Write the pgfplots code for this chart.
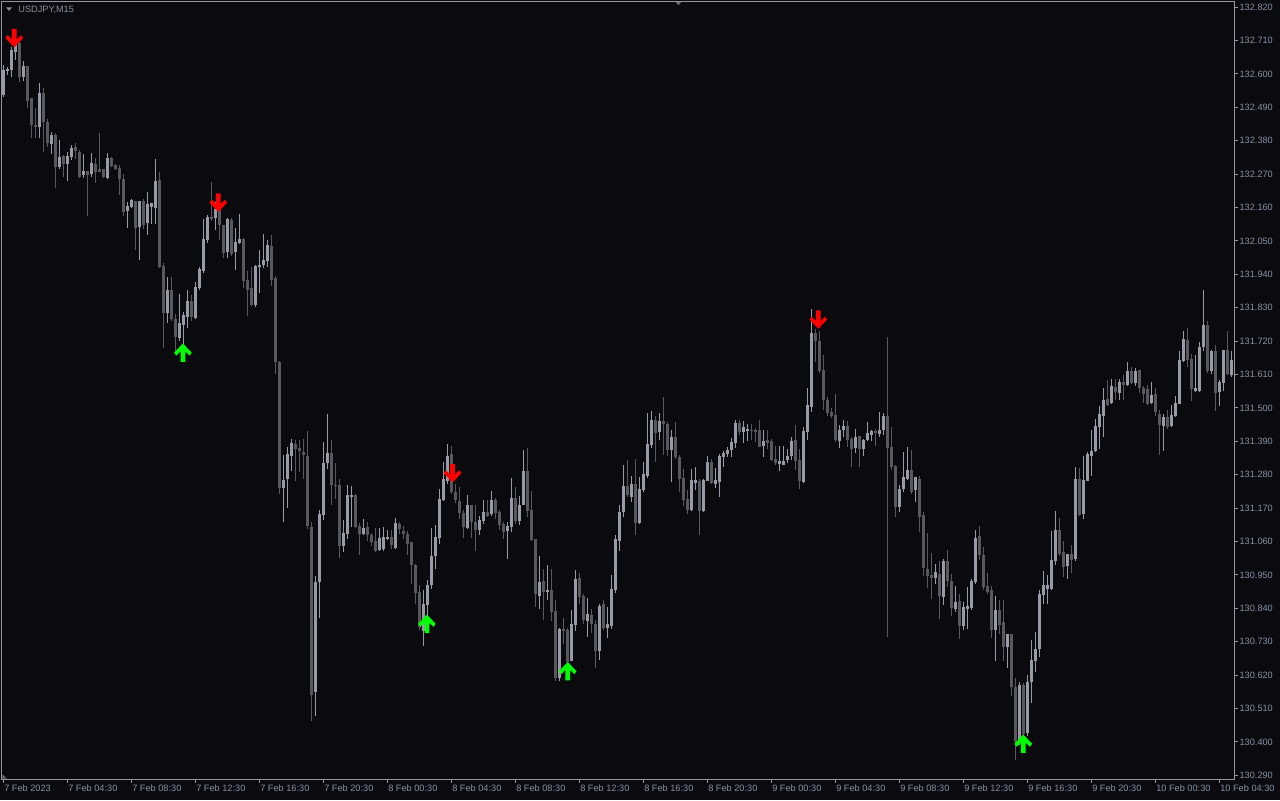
\documentclass[border=0pt]{standalone}
\usepackage{fontspec}
\setmainfont{Liberation Sans}
\usepackage{pgfplots}
\pgfplotsset{compat=1.18}
\usepackage{pgfplotstable}
\definecolor{bg}{RGB}{10,10,15}
\definecolor{bullc}{RGB}{152,154,166}
\definecolor{bearc}{RGB}{88,88,94}
\definecolor{framec}{RGB}{150,150,156}
\definecolor{labc}{RGB}{135,145,162}
\definecolor{arrred}{RGB}{255,0,0}
\definecolor{arrgreen}{RGB}{0,255,0}
\pgfdeclareplotmark{dnarrow}{%
  \pgfpathmoveto{\pgfqpoint{-1.2pt}{4.6pt}}%
  \pgfpathlineto{\pgfqpoint{1.2pt}{4.6pt}}%
  \pgfpathlineto{\pgfqpoint{1.2pt}{-0.6pt}}%
  \pgfpathlineto{\pgfqpoint{3.3pt}{1.5pt}}%
  \pgfpathlineto{\pgfqpoint{4.4pt}{0.0pt}}%
  \pgfpathlineto{\pgfqpoint{0pt}{-4.6pt}}%
  \pgfpathlineto{\pgfqpoint{-4.4pt}{0.0pt}}%
  \pgfpathlineto{\pgfqpoint{-3.3pt}{1.5pt}}%
  \pgfpathlineto{\pgfqpoint{-1.2pt}{-0.6pt}}%
  \pgfpathclose
  \pgfusepathqfill}
\pgfdeclareplotmark{uparrow}{%
  \pgfpathmoveto{\pgfqpoint{-1.2pt}{-4.6pt}}%
  \pgfpathlineto{\pgfqpoint{1.2pt}{-4.6pt}}%
  \pgfpathlineto{\pgfqpoint{1.2pt}{0.6pt}}%
  \pgfpathlineto{\pgfqpoint{3.3pt}{-1.5pt}}%
  \pgfpathlineto{\pgfqpoint{4.4pt}{0.0pt}}%
  \pgfpathlineto{\pgfqpoint{0pt}{4.6pt}}%
  \pgfpathlineto{\pgfqpoint{-4.4pt}{0.0pt}}%
  \pgfpathlineto{\pgfqpoint{-3.3pt}{-1.5pt}}%
  \pgfpathlineto{\pgfqpoint{-1.2pt}{0.6pt}}%
  \pgfpathclose
  \pgfusepathqfill}
\pgfplotstableread{
i t o h l c
0 1 132.533 132.628 132.524 132.615
1 1 132.613 132.625 132.596 132.615
2 1 132.612 132.689 132.592 132.681
3 1 132.672 132.711 132.647 132.700
4 0 132.702 132.706 132.574 132.590
5 1 132.588 132.645 132.577 132.625
6 0 132.628 132.628 132.489 132.511
7 0 132.520 132.520 132.390 132.431
8 0 132.434 132.488 132.390 132.427
9 1 132.425 132.572 132.390 132.539
10 0 132.539 132.553 132.343 132.442
11 0 132.444 132.453 132.359 132.372
12 1 132.370 132.409 132.339 132.398
13 0 132.401 132.405 132.227 132.293
14 1 132.295 132.383 132.288 132.328
15 0 132.332 132.332 132.262 132.304
16 1 132.306 132.343 132.249 132.332
17 1 132.328 132.365 132.317 132.356
18 0 132.359 132.372 132.320 132.346
19 0 132.345 132.348 132.258 132.262
20 1 132.269 132.339 132.260 132.282
21 0 132.282 132.282 132.134 132.269
22 1 132.273 132.339 132.262 132.308
23 0 132.304 132.323 132.241 132.277
24 0 132.289 132.407 132.277 132.280
25 0 132.289 132.289 132.258 132.260
26 1 132.259 132.340 132.255 132.323
27 0 132.323 132.326 132.295 132.299
28 0 132.302 132.306 132.284 132.289
29 0 132.292 132.301 132.203 132.253
30 0 132.256 132.271 132.134 132.148
31 1 132.148 132.177 132.093 132.165
32 1 132.163 132.189 132.159 132.186
33 0 132.183 132.183 132.022 132.095
34 1 132.098 132.183 131.987 132.183
35 0 132.183 132.189 132.090 132.103
36 1 132.108 132.214 132.071 132.173
37 1 132.163 132.176 132.108 132.176
38 1 132.161 132.323 132.108 132.249
39 0 132.251 132.279 131.963 131.965
40 0 131.969 131.977 131.699 131.813
41 1 131.813 131.932 131.782 131.889
42 0 131.889 131.932 131.787 131.795
43 0 131.795 131.811 131.688 131.734
44 1 131.732 131.875 131.723 131.780
45 1 131.774 131.815 131.711 131.807
46 1 131.800 131.888 131.763 131.853
47 0 131.853 131.873 131.787 131.800
48 1 131.798 131.914 131.792 131.900
49 1 131.897 131.965 131.890 131.959
50 1 131.952 132.124 131.947 132.057
51 1 132.055 132.139 132.045 132.132
52 0 132.130 132.245 132.114 132.125
53 1 132.126 132.180 132.086 132.154
54 0 132.154 132.176 132.053 132.102
55 0 132.104 132.104 131.994 132.013
56 1 132.013 132.128 131.994 132.123
57 0 132.119 132.125 132.000 132.009
58 1 132.013 132.093 131.956 132.048
59 1 132.045 132.141 132.042 132.057
60 0 132.057 132.060 131.897 131.919
61 0 131.923 131.952 131.803 131.888
62 0 131.894 131.965 131.837 131.839
63 1 131.839 131.971 131.833 131.967
64 1 131.965 132.020 131.879 131.972
65 1 131.971 132.073 131.960 131.987
66 1 131.985 132.053 131.965 132.037
67 0 132.033 132.070 131.901 131.921
68 0 131.929 131.934 131.613 131.654
69 0 131.654 131.657 131.217 131.239
70 1 131.239 131.347 131.127 131.263
71 1 131.268 131.371 131.173 131.349
72 1 131.343 131.398 131.294 131.384
73 0 131.382 131.395 131.261 131.366
74 0 131.369 131.395 131.289 131.357
75 0 131.357 131.398 131.267 131.347
76 0 131.343 131.423 131.102 131.113
77 0 131.109 131.127 130.469 130.557
78 1 130.565 130.949 130.488 130.929
79 1 130.927 131.165 130.810 131.150
80 1 131.147 131.387 131.130 131.321
81 1 131.319 131.480 131.300 131.352
82 0 131.354 131.396 131.183 131.246
83 0 131.247 131.321 131.202 131.245
84 0 131.246 131.268 131.007 131.048
85 1 131.048 131.133 131.026 131.091
86 1 131.085 131.246 131.070 131.213
87 1 131.207 131.243 131.109 131.216
88 0 131.216 131.216 131.106 131.109
89 0 131.111 131.122 131.015 131.085
90 1 131.085 131.137 131.082 131.104
91 0 131.107 131.127 131.063 131.082
92 0 131.084 131.089 131.046 131.060
93 0 131.063 131.105 131.027 131.030
94 1 131.035 131.105 131.030 131.074
95 1 131.037 131.107 131.030 131.074
96 1 131.073 131.098 131.065 131.075
97 0 131.074 131.098 131.037 131.048
98 1 131.042 131.137 131.037 131.122
99 0 131.117 131.124 131.085 131.103
100 0 131.097 131.111 131.070 131.085
101 0 131.085 131.097 131.018 131.054
102 0 131.058 131.060 130.922 130.982
103 0 130.985 130.985 130.854 130.891
104 0 130.894 130.919 130.768 130.779
105 1 130.768 130.902 130.718 130.856
106 1 130.854 130.933 130.768 130.919
107 1 130.919 131.106 130.905 131.015
108 1 131.015 131.114 130.968 131.075
109 1 131.073 131.235 131.054 131.202
110 1 131.199 131.322 131.194 131.268
111 1 131.262 131.381 131.251 131.344
112 0 131.348 131.374 131.218 131.223
113 0 131.225 131.251 131.187 131.196
114 0 131.196 131.240 131.137 131.157
115 0 131.155 131.165 131.073 131.108
116 1 131.106 131.213 131.103 131.183
117 0 131.180 131.180 131.073 131.125
118 0 131.126 131.183 131.029 131.097
119 1 131.097 131.146 131.084 131.130
120 1 131.129 131.196 131.118 131.159
121 0 131.159 131.196 131.140 131.146
122 1 131.151 131.228 131.146 131.198
123 0 131.198 131.207 131.137 131.153
124 0 131.157 131.165 131.097 131.117
125 0 131.119 131.125 131.070 131.092
126 1 131.095 131.125 131.004 131.111
127 1 131.108 131.268 131.092 131.205
128 0 131.205 131.240 131.119 131.130
129 1 131.130 131.209 131.114 131.183
130 1 131.183 131.361 131.180 131.295
131 0 131.295 131.370 131.141 131.161
132 0 131.163 131.226 131.062 131.064
133 0 131.070 131.070 130.847 130.887
134 1 130.883 131.012 130.839 130.929
135 0 130.929 130.971 130.803 130.894
136 1 130.896 130.985 130.867 130.902
137 0 130.900 130.971 130.801 130.828
138 0 130.831 130.869 130.600 130.610
139 1 130.610 130.777 130.600 130.773
140 0 130.771 130.810 130.724 130.769
141 0 130.770 130.777 130.647 130.664
142 1 130.669 130.836 130.667 130.790
143 1 130.784 130.966 130.766 130.938
144 0 130.941 130.957 130.856 130.878
145 0 130.880 130.887 130.790 130.803
146 1 130.801 130.876 130.746 130.823
147 0 130.821 130.839 130.759 130.790
148 0 130.790 130.803 130.645 130.702
149 1 130.702 130.856 130.669 130.850
150 0 130.856 130.869 130.768 130.777
151 1 130.777 130.845 130.744 130.788
152 1 130.784 130.949 130.770 130.905
153 1 130.900 131.081 130.891 131.068
154 1 131.062 131.180 131.029 131.160
155 1 131.158 131.311 131.141 131.242
156 0 131.242 131.328 131.207 131.213
157 1 131.209 131.278 131.191 131.251
158 0 131.251 131.333 131.081 131.121
159 1 131.121 131.271 131.117 131.235
160 1 131.229 131.322 131.224 131.282
161 1 131.275 131.484 131.271 131.381
162 1 131.377 131.493 131.370 131.460
163 0 131.460 131.476 131.322 131.418
164 1 131.421 131.484 131.396 131.456
165 0 131.456 131.539 131.348 131.447
166 0 131.447 131.454 131.344 131.363
167 1 131.363 131.429 131.257 131.407
168 0 131.405 131.456 131.333 131.339
169 0 131.341 131.344 131.224 131.268
170 0 131.271 131.300 131.176 131.196
171 0 131.202 131.229 131.150 131.165
172 1 131.163 131.300 131.161 131.262
173 1 131.254 131.308 131.231 131.262
174 0 131.262 131.268 131.081 131.161
175 1 131.161 131.268 131.158 131.264
176 1 131.262 131.341 131.260 131.322
177 0 131.322 131.333 131.249 131.253
178 1 131.251 131.304 131.238 131.262
179 1 131.257 131.348 131.207 131.341
180 1 131.341 131.361 131.306 131.354
181 1 131.350 131.372 131.339 131.363
182 1 131.361 131.403 131.341 131.387
183 1 131.385 131.462 131.370 131.452
184 0 131.452 131.460 131.410 131.421
185 1 131.421 131.457 131.383 131.436
186 1 131.427 131.447 131.392 131.432
187 0 131.428 131.446 131.396 131.426
188 0 131.427 131.435 131.388 131.421
189 0 131.427 131.460 131.370 131.372
190 1 131.377 131.427 131.339 131.394
191 0 131.394 131.427 131.366 131.385
192 0 131.390 131.399 131.326 131.330
193 0 131.333 131.374 131.311 131.319
194 1 131.317 131.377 131.295 131.325
195 1 131.315 131.377 131.315 131.328
196 1 131.328 131.366 131.319 131.344
197 1 131.341 131.405 131.328 131.392
198 0 131.394 131.443 131.295 131.326
199 0 131.328 131.366 131.235 131.260
200 1 131.256 131.438 131.253 131.423
201 1 131.421 131.567 131.396 131.512
202 1 131.506 131.827 131.487 131.747
203 0 131.749 131.762 131.652 131.723
204 0 131.723 131.754 131.616 131.622
205 0 131.624 131.677 131.493 131.526
206 0 131.526 131.537 131.473 131.484
207 0 131.489 131.501 131.468 131.473
208 0 131.476 131.548 131.388 131.394
209 1 131.394 131.443 131.370 131.429
210 1 131.427 131.460 131.405 131.440
211 0 131.440 131.457 131.372 131.396
212 0 131.399 131.405 131.306 131.366
213 1 131.370 131.432 131.352 131.405
214 0 131.407 131.410 131.306 131.366
215 1 131.366 131.399 131.344 131.396
216 1 131.394 131.454 131.392 131.420
217 1 131.413 131.429 131.394 131.424
218 0 131.424 131.432 131.374 131.418
219 1 131.413 131.487 131.405 131.427
220 1 131.427 131.484 131.413 131.473
221 0 131.473 131.734 130.746 131.370
222 0 131.374 131.438 131.295 131.308
223 0 131.308 131.311 131.141 131.174
224 1 131.174 131.246 131.158 131.235
225 1 131.233 131.355 131.224 131.273
226 1 131.267 131.370 131.262 131.297
227 0 131.295 131.361 131.216 131.224
228 1 131.229 131.275 131.191 131.271
229 0 131.267 131.279 131.092 131.143
230 0 131.147 131.158 130.946 130.974
231 0 130.971 131.088 130.908 130.949
232 0 130.952 131.023 130.872 130.941
233 1 130.941 130.988 130.922 130.960
234 0 130.952 130.998 130.806 130.880
235 1 130.878 131.004 130.853 130.998
236 0 130.998 131.031 130.911 130.930
237 0 130.930 130.955 130.817 130.843
238 1 130.839 130.913 130.828 130.861
239 0 130.864 130.889 130.740 130.784
240 1 130.784 130.861 130.768 130.845
241 1 130.839 130.911 130.773 130.847
242 1 130.843 130.938 130.836 130.930
243 1 130.927 131.099 130.919 131.073
244 0 131.078 131.114 131.001 131.015
245 0 131.018 131.045 130.902 130.911
246 0 130.916 130.957 130.889 130.897
247 0 130.900 130.916 130.744 130.770
248 1 130.770 130.883 130.669 130.836
249 0 130.836 130.867 130.755 130.788
250 0 130.795 130.869 130.669 130.715
251 1 130.715 130.757 130.645 130.755
252 0 130.755 130.755 130.554 130.581
253 0 130.583 130.612 130.340 130.400
254 1 130.400 130.598 130.389 130.587
255 0 130.587 130.594 130.411 130.428
256 1 130.430 130.620 130.422 130.598
257 1 130.598 130.737 130.529 130.671
258 1 130.667 130.762 130.631 130.708
259 1 130.708 130.902 130.680 130.887
260 1 130.883 130.963 130.856 130.916
261 1 130.905 130.949 130.856 130.919
262 1 130.905 131.097 130.902 131.001
263 1 130.996 131.163 130.985 131.097
264 0 131.097 131.139 131.015 131.020
265 0 131.026 131.064 130.944 130.979
266 1 130.979 131.020 130.938 131.018
267 0 131.018 131.051 130.957 131.001
268 1 131.001 131.308 130.999 131.264
269 0 131.267 131.304 131.147 131.147
270 1 131.150 131.341 131.136 131.262
271 1 131.262 131.355 131.262 131.350
272 1 131.344 131.429 131.278 131.358
273 1 131.358 131.465 131.355 131.440
274 1 131.438 131.509 131.366 131.482
275 1 131.473 131.567 131.405 131.528
276 0 131.531 131.594 131.509 131.512
277 1 131.517 131.597 131.515 131.572
278 0 131.572 131.594 131.526 131.553
279 1 131.550 131.594 131.526 131.586
280 0 131.586 131.608 131.526 131.575
281 1 131.575 131.652 131.572 131.622
282 0 131.624 131.633 131.578 131.583
283 1 131.583 131.633 131.572 131.624
284 0 131.624 131.624 131.548 131.567
285 0 131.567 131.572 131.517 131.548
286 0 131.564 131.578 131.512 131.515
287 1 131.517 131.586 131.515 131.542
288 0 131.545 131.567 131.476 131.487
289 0 131.482 131.493 131.344 131.443
290 1 131.443 131.482 131.359 131.471
291 0 131.471 131.493 131.432 131.438
292 1 131.440 131.512 131.438 131.476
293 1 131.473 131.539 131.471 131.517
294 1 131.512 131.688 131.512 131.657
295 1 131.655 131.756 131.652 131.729
296 0 131.725 131.765 131.638 131.657
297 0 131.660 131.677 131.523 131.564
298 1 131.558 131.674 131.553 131.567
299 1 131.556 131.718 131.553 131.703
300 1 131.701 131.890 131.688 131.773
301 0 131.773 131.787 131.616 131.622
302 1 131.622 131.692 131.613 131.688
303 0 131.688 131.707 131.490 131.550
304 1 131.553 131.591 131.506 131.586
305 1 131.583 131.692 131.556 131.690
306 0 131.690 131.754 131.608 131.611
307 1 131.608 131.688 131.605 131.660
}\candles
\begin{document}
\begin{tikzpicture}
\fill[bg] (0,0) rectangle (640pt,400pt);
\begin{axis}[
  at={(1pt,10.5pt)}, anchor=south west,
  scale only axis, width=616pt, height=388.5pt,
  xmin=-0.325, xmax=307.675, ymin=130.278, ymax=132.837,
  axis background/.style={fill=bg},
  axis line style={draw=framec, line width=0.5pt},
  tick style={draw=framec, line width=0.5pt},
  tick align=outside, major tick length=2pt,
  xtick pos=left, ytick pos=right, yticklabel pos=right,
  xtick={0,16,32,48,64,80,96,112,128,144,160,176,192,208,224,240,256,272,288,304},
  xticklabels={7 Feb 2023,7 Feb 04:30,7 Feb 08:30,7 Feb 12:30,7 Feb 16:30,7 Feb 20:30,8 Feb 00:30,8 Feb 04:30,8 Feb 08:30,8 Feb 12:30,8 Feb 16:30,8 Feb 20:30,9 Feb 00:30,9 Feb 04:30,9 Feb 08:30,9 Feb 12:30,9 Feb 16:30,9 Feb 20:30,10 Feb 00:30,10 Feb 04:30},
  ytick={130.290,130.400,130.510,130.620,130.730,130.840,130.950,131.060,131.170,131.280,131.390,131.500,131.610,131.720,131.830,131.940,132.050,132.160,132.270,132.380,132.490,132.600,132.710,132.820},
  /pgf/number format/fixed,
  /pgf/number format/fixed zerofill,
  /pgf/number format/precision=3,
  /pgf/number format/1000 sep={},
  /pgf/number format/assume math mode=true,
  ticklabel style={font=\fontsize{4.6pt}{5pt}\selectfont, text=labc, inner sep=0pt},
  xticklabel style={anchor=north west, xshift=0.3pt, yshift=-0.6pt},
  yticklabel style={anchor=west, xshift=0.6pt},
  clip=true,
]
% signal arrows (drawn first so candles overlay them)
\addplot[only marks, mark=dnarrow, color=arrred, forget plot] coordinates {
 (2.75,132.718) (53.75,132.176) (112.3,131.285) (203.75,131.791)};
\addplot[only marks, mark=uparrow, color=arrgreen, forget plot] coordinates {
 (44.9,131.682) (105.9,130.789) (141.1,130.633) (255.0,130.394)};
% bear candles
\addplot[draw=none, mark=none, forget plot,
  restrict expr to domain={\thisrow{t}}{-0.5:0.5},
  error bars/.cd, y dir=both, y explicit, error mark=none,
  error bar style={draw=bearc, line width=0.5pt}]
  table[x=i, y expr={(\thisrow{h}+\thisrow{l})/2}, y error expr={(\thisrow{h}-\thisrow{l})/2}] {\candles};
\addplot[draw=none, mark=none, forget plot,
  restrict expr to domain={\thisrow{t}}{-0.5:0.5},
  error bars/.cd, y dir=both, y explicit, error mark=none,
  error bar style={draw=bearc, line width=1.5pt}]
  table[x=i, y expr={(\thisrow{o}+\thisrow{c})/2}, y error expr={max(abs(\thisrow{o}-\thisrow{c})/2,0.0017)}] {\candles};
% bull candles
\addplot[draw=none, mark=none, forget plot,
  restrict expr to domain={\thisrow{t}}{0.5:1.5},
  error bars/.cd, y dir=both, y explicit, error mark=none,
  error bar style={draw=bullc, line width=0.5pt}]
  table[x=i, y expr={(\thisrow{h}+\thisrow{l})/2}, y error expr={(\thisrow{h}-\thisrow{l})/2}] {\candles};
\addplot[draw=none, mark=none, forget plot,
  restrict expr to domain={\thisrow{t}}{0.5:1.5},
  error bars/.cd, y dir=both, y explicit, error mark=none,
  error bar style={draw=bullc, line width=1.5pt}]
  table[x=i, y expr={(\thisrow{o}+\thisrow{c})/2}, y error expr={max(abs(\thisrow{o}-\thisrow{c})/2,0.0017)}] {\candles};
\end{axis}
% chart title and markers
\fill[labc] (3pt,396.3pt) -- (6pt,396.3pt) -- (4.5pt,394.6pt) -- cycle;
\node[anchor=west, inner sep=0pt, text=labc, font=\fontsize{4.6pt}{5pt}\selectfont] at (9pt,395.2pt) {USDJPY,M15};
\fill[framec!70!bg] (337.8pt,399pt) -- (340.6pt,399pt) -- (339.2pt,397.4pt) -- cycle;
\fill[framec!70!bg] (1.2pt,10.7pt) -- (1.2pt,12.8pt) -- (3.4pt,10.7pt) -- cycle;
\pgfresetboundingbox
\useasboundingbox (0,0) rectangle (640pt,400pt);
\end{tikzpicture}
\end{document}
